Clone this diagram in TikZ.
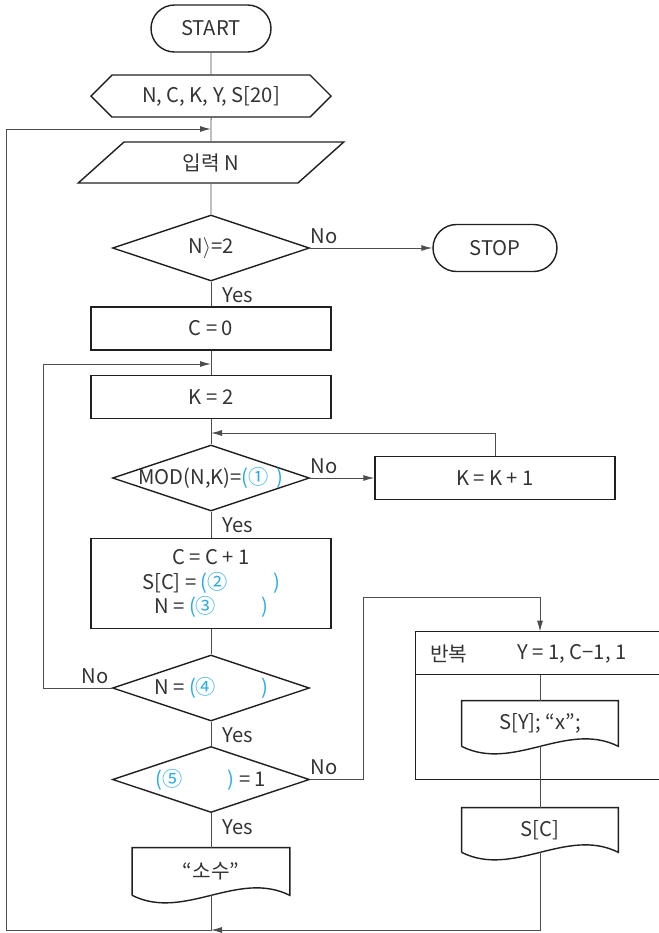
\documentclass[tikz,border=0pt]{standalone}
\usepackage{fontspec}
\setmainfont{Noto Sans CJK KR}
\usetikzlibrary{arrows.meta,calc,shapes.geometric,shapes.misc,shapes.symbols}
\definecolor{fcink}{HTML}{231F20}
\definecolor{fcline}{HTML}{4D4D4D}
\definecolor{fctext}{HTML}{333333}
\definecolor{fcblue}{HTML}{29ABE2}
\newcommand{\blk}[1]{\textcolor{fcblue}{#1}}
\tikzset{
  outline/.style={draw=fcink, line width=0.8pt},
  sh/.style={outline, text=fctext, align=center, inner sep=0pt},
  term/.style={sh, rounded rectangle, minimum width=24mm, minimum height=9.4mm},
  prep/.style={sh, signal, signal to=west and east, signal pointer angle=90, minimum width=48mm, minimum height=8.4mm},
  io/.style={sh, trapezium, trapezium left angle=51, trapezium right angle=129, trapezium stretches=true, minimum width=53.2mm, minimum height=8.2mm},
  proc/.style={sh, rectangle, minimum width=48mm, minimum height=8.6mm},
  dec/.style={sh, diamond, aspect=3, inner xsep=-4mm, minimum width=39.4mm, minimum height=13.2mm},
  doc/.style={rectangle, text=fctext, align=center, inner sep=0pt, minimum width=31.4mm, minimum height=9.4mm},
  conn/.style={draw=fcline, line width=0.55pt},
  arr/.style={conn, -{Latex[length=2.2mm, width=1.2mm]}},
  lbl/.style={text=fctext, inner sep=0pt},
}
\newcommand{\docline}[1]{\draw[outline] (#1.south west) -- (#1.north west) -- (#1.north east) -- (#1.south east)
  .. controls ($(#1.south east)!0.33!(#1.south west)+(0,-26)$) and ($(#1.south west)!0.33!(#1.south east)+(0,26)$) .. (#1.south west);}

\begin{document}
\begin{tikzpicture}[x=0.2mm, y=-0.2mm, font=\fontsize{11.5pt}{14pt}\selectfont]
  \useasboundingbox (0,0) rectangle (659,933);
  \node[term] (start) at (211,28.5) {START};
  \node[prep] (vars) at (211,96) {N, C, K, Y, S[20]};
  \node[io] (inp) at (211,162.5) {입력 N};
  \node[dec] (chk) at (211,248) {N$\rangle$=2};
  \node[term, minimum width=24.8mm] (stop) at (495,248) {STOP};
  \node[proc] (cinit) at (211,328.5) {C = 0};
  \node[proc] (kinit) at (211,397) {K = 2};
  \node[dec] (modchk) at (211,478) {MOD(N,K)=\blk{(①\hspace{1.6mm})}};
  \node[proc] (kinc) at (495,478) {K = K + 1};
  \node[proc, minimum height=18mm] (upd) at (211,583.5) {C = C + 1\\S[C] = \blk{(②\hspace{9mm})}\\N = \blk{(③\hspace{9mm})}};
  \node[dec] (nchk) at (211,688) {N = \blk{(④\hspace{9mm})}};
  \node[dec] (pchk) at (211,779.5) {\blk{(⑤\hspace{9mm})} = 1};
  \node[doc] (prime) at (211,871.5) {“소수”};
  \docline{prime}

  \node[rectangle, inner sep=0pt, minimum width=48.6mm, minimum height=29.4mm] (rep) at (537.5,705.5) {};
  \coordinate (hdr) at ($(rep.north west)+(0,43)$);
  \draw[outline] (rep.north east) -- (rep.north west) -- (rep.south west) -- (rep.south east);
  \draw[outline] (hdr) -- (hdr -| rep.east);
  \node[lbl, anchor=west] (repkw) at (430,654) {반복};
  \node[lbl, anchor=west] (repvar) at (517,654) {Y = 1, C−1, 1};
  \node[doc, minimum width=31.2mm, minimum height=9mm] (sy) at (540,723.5) {S[Y]; “x”;};
  \docline{sy}
  \node[doc, minimum width=31.2mm, minimum height=8.8mm] (sc) at (540,830) {S[C]};
  \docline{sc}

  \foreach \a/\b in {start/vars, vars/inp, inp/chk, chk/cinit, cinit/kinit, kinit/modchk, modchk/upd, upd/nchk, nchk/pchk, pchk/prime}
    \draw[conn] (\a) -- (\b);
  \foreach \d in {chk, modchk, nchk, pchk}
    \node[lbl, anchor=base west] (\d-yes) at ($(\d.south)+(11,21)$) {Yes};
  \foreach \d in {chk, modchk, pchk}
    \node[lbl, anchor=base west] (\d-no) at ($(\d.east)+(0,-5)$) {No};
  \node[lbl, anchor=base east] (nchk-no) at ($(nchk.west)+(-3,-5)$) {No};

  \coordinate (bot) at (211,930);
  \coordinate (ol) at (6,930);
  \coordinate (retin) at (211,129);
  \coordinate (il) at (43,364);
  \coordinate (kin) at (211,364);
  \coordinate (kret) at (211,433);
  \coordinate (jr1) at (363,597);
  \coordinate (jr2) at (540,597);
  \draw[arr] (chk.east) -- (stop.west);
  \draw[arr] (modchk.east) -- (kinc.west);
  \draw[arr] (kinc.north) |- (kret);
  \draw[arr] (nchk.west) -| (il) -- (kin);
  \draw[arr] (pchk.east) -| (jr1) -- (jr2) -- (sy |- rep.north);
  \draw[conn] (sy |- hdr) -- (sy);
  \draw[conn] (sy.south) -- (sc);
  \draw[arr] (sc.south) |- (bot);
  \draw[arr] (prime.south) -- (bot) -- (ol) |- (retin);
\end{tikzpicture}
\end{document}
